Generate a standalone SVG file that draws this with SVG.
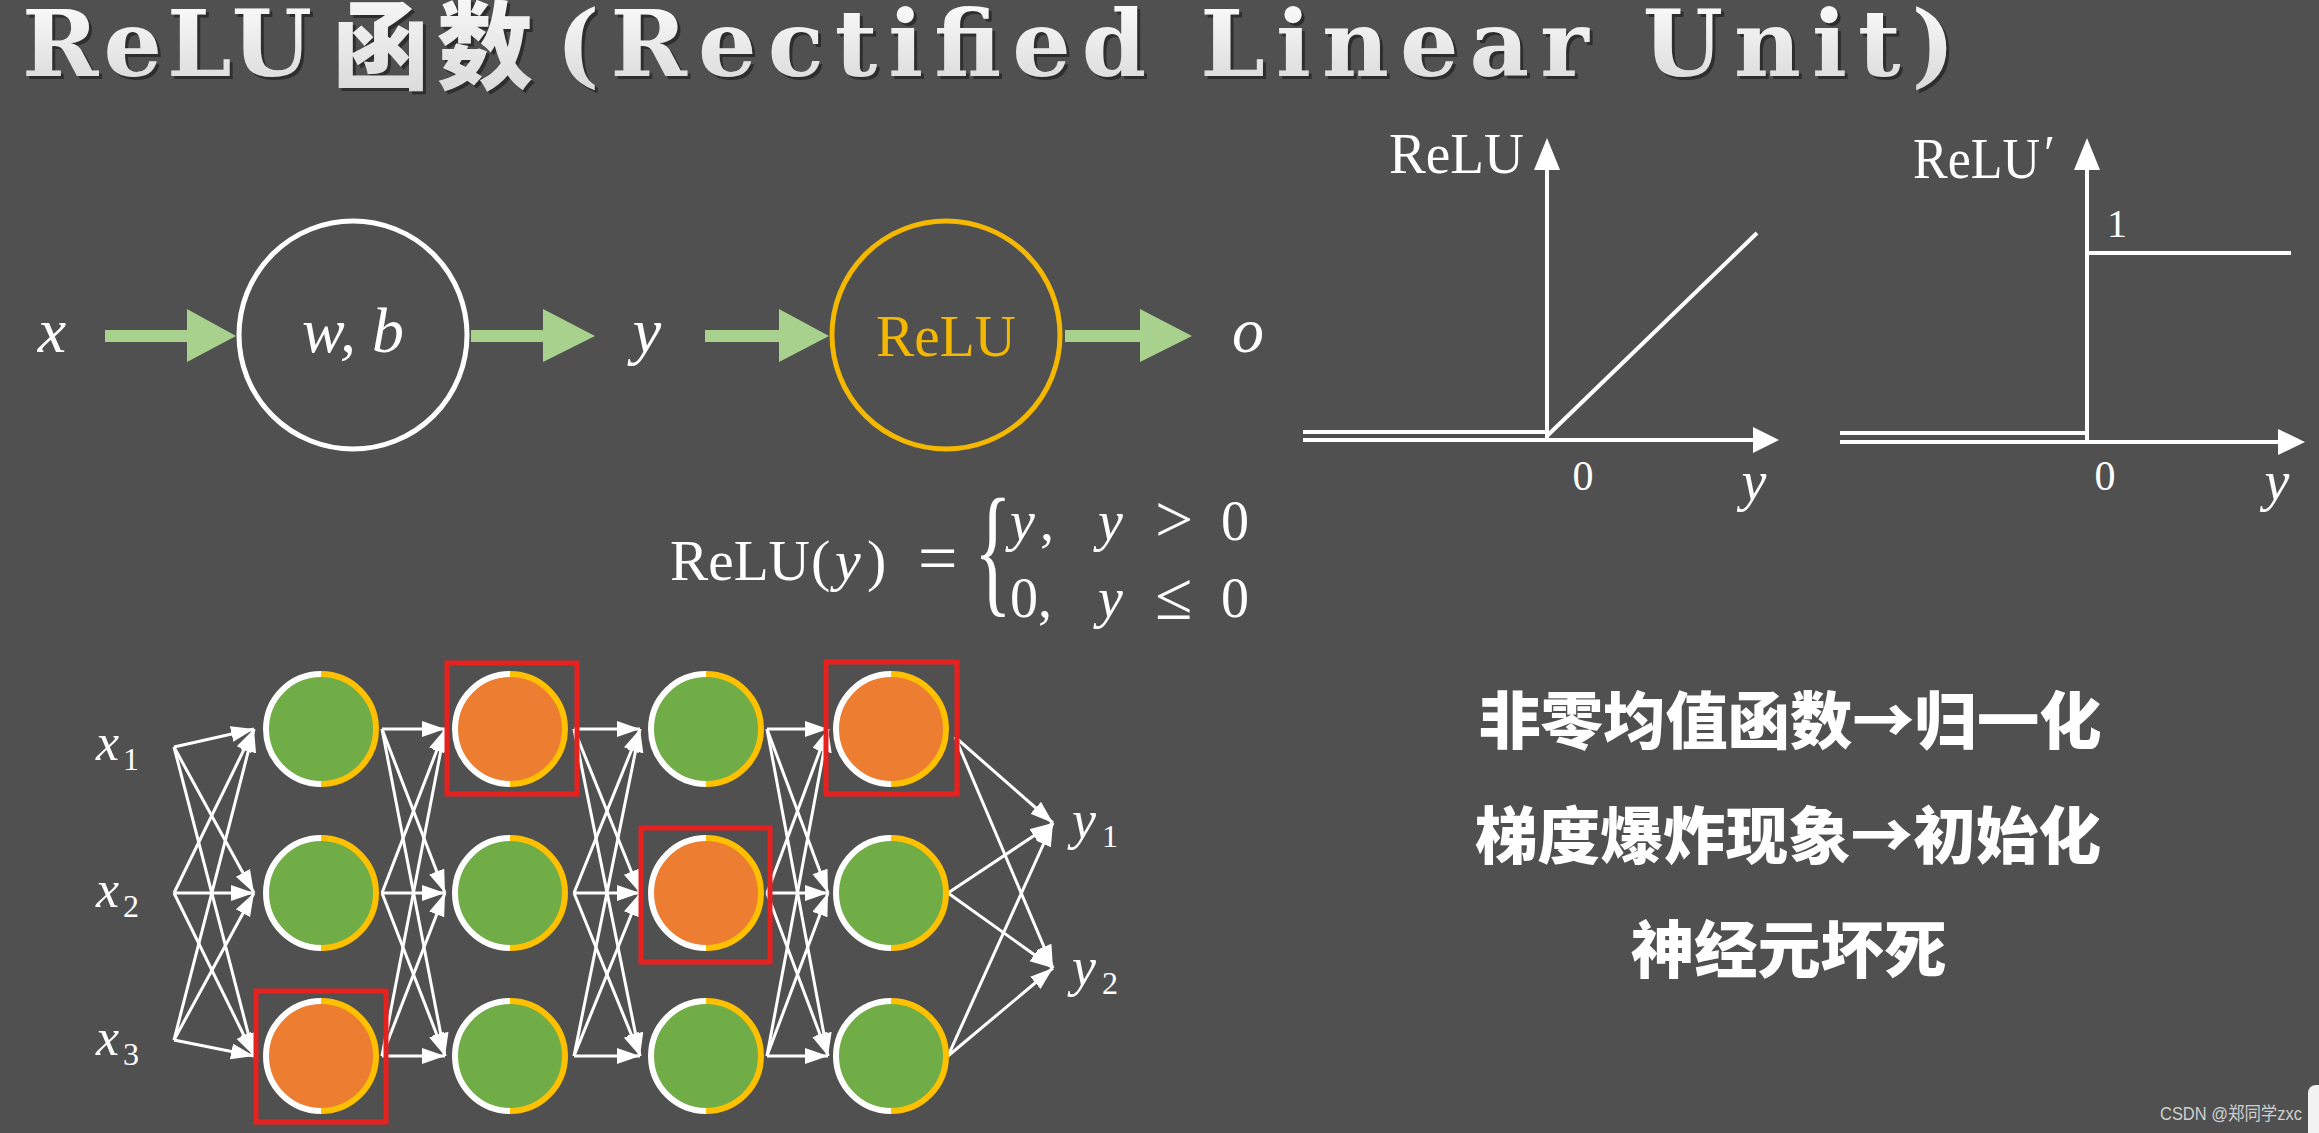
<svg xmlns="http://www.w3.org/2000/svg" xmlns:xlink="http://www.w3.org/1999/xlink" width="2319" height="1133" viewBox="0 0 2319 1133">
<defs>
<style>
.serif{font-family:"Liberation Serif","DejaVu Serif",serif;fill:#ffffff}
.it{font-style:italic}
.cjk{font-family:"Noto Sans CJK SC","Noto Sans CJK TC",sans-serif;font-weight:900;fill:#ffffff}
.axis{stroke:#ffffff;stroke-width:4;fill:none}
.edge{stroke:#ffffff;stroke-width:3;fill:none;marker-end:url(#ah)}
.garrow{fill:#A9D18E}
.g{fill:#70AD47}
.o{fill:#ED7D31}
.box{fill:none;stroke:#E8201E;stroke-width:5}
.title{font-family:"DejaVu Serif","Liberation Serif",serif;font-weight:700;font-size:92px}
.titlecjk{font-family:"Noto Sans CJK SC",sans-serif;font-weight:900;font-size:96px}
</style>
<linearGradient id="tg" x1="0" y1="0" x2="0" y2="1">
<stop offset="0" stop-color="#ffffff"/>
<stop offset="1" stop-color="#d6d6d6"/>
</linearGradient>
<marker id="ah" markerUnits="userSpaceOnUse" markerWidth="24" markerHeight="18" refX="23" refY="8" orient="auto">
<path d="M0,0 L23,8 L0,16 z" fill="#ffffff"/>
</marker>
<g id="ring">
<path d="M0,-55 A55,55 0 0 0 0,55" stroke="#ffffff" stroke-width="6" fill="none"/>
<path d="M0,-55 A55,55 0 0 1 0,55" stroke="#FFC000" stroke-width="6" fill="none"/>
</g>
</defs>
<rect width="2319" height="1133" fill="#505050"/>

<g id="title">
<g fill="#2e2e2e" transform="translate(3,3)">
<text class="title" x="22" y="76" textLength="290" lengthAdjust="spacing">ReLU</text>
<text class="titlecjk" x="333" y="81" textLength="200" lengthAdjust="spacing">函数</text>
<text class="title" x="556" y="76" textLength="1399" lengthAdjust="spacing">(Rectified Linear Unit)</text>
</g>
<g fill="url(#tg)">
<text class="title" x="22" y="76" textLength="290" lengthAdjust="spacing">ReLU</text>
<text class="titlecjk" x="333" y="81" textLength="200" lengthAdjust="spacing">函数</text>
<text class="title" x="556" y="76" textLength="1399" lengthAdjust="spacing">(Rectified Linear Unit)</text>
</g>
</g>

<g id="flow">
<g id="lbl_x"><text class="serif it" x="52" y="352" font-size="64" text-anchor="middle">x</text></g>
<g id="arrow1"><polygon class="garrow" points="105,330 187,330 187,309 236,336 187,362 187,342 105,342"/></g>
<g id="node_wb">
<circle cx="353" cy="335" r="114" fill="none" stroke="#ffffff" stroke-width="5"/>
<text class="serif it" x="353" y="352" font-size="64" text-anchor="middle">w, b</text>
</g>
<g id="arrow2"><polygon class="garrow" points="471,330 543,330 543,309 595,336 543,362 543,342 471,342"/></g>
<g id="lbl_y"><text class="serif it" x="647" y="352" font-size="64" text-anchor="middle">y</text></g>
<g id="arrow3"><polygon class="garrow" points="705,330 779,330 779,309 829,336 779,362 779,342 705,342"/></g>
<g id="node_relu">
<circle cx="946" cy="335" r="114" fill="none" stroke="#F5B800" stroke-width="5"/>
<text x="946" y="356" font-size="60" text-anchor="middle" font-family="Liberation Serif, DejaVu Serif, serif" fill="#F5B800" textLength="140" lengthAdjust="spacingAndGlyphs">ReLU</text>
</g>
<g id="arrow4"><polygon class="garrow" points="1065,330 1140,330 1140,309 1192,336 1140,362 1140,342 1065,342"/></g>
<g id="lbl_o"><text class="serif it" x="1248" y="352" font-size="64" text-anchor="middle">o</text></g>
</g>

<g id="graph_relu">
<line class="axis" x1="1547" y1="440" x2="1547" y2="165"/>
<polygon points="1547,138 1534,170 1560,170" fill="#ffffff"/>
<line class="axis" x1="1303" y1="440" x2="1756" y2="440"/>
<polygon points="1779,440 1753,427 1753,453" fill="#ffffff"/>
<line class="axis" x1="1303" y1="432" x2="1547" y2="432"/>
<line class="axis" x1="1547" y1="436" x2="1757" y2="233"/>
<text class="serif" x="1389" y="173" font-size="58" textLength="135" lengthAdjust="spacingAndGlyphs">ReLU</text>
<text class="serif" x="1583" y="490" font-size="42" text-anchor="middle">0</text>
<text class="serif it" x="1754" y="500" font-size="56" text-anchor="middle">y</text>
</g>

<g id="graph_drelu">
<line class="axis" x1="2087" y1="442" x2="2087" y2="165"/>
<polygon points="2087,138 2074,170 2100,170" fill="#ffffff"/>
<line class="axis" x1="1840" y1="442" x2="2281" y2="442"/>
<polygon points="2305,442 2278,429 2278,455" fill="#ffffff"/>
<line class="axis" x1="1840" y1="433" x2="2087" y2="433"/>
<line class="axis" x1="2087" y1="253" x2="2291" y2="253"/>
<text class="serif" x="1913" y="178" font-size="56" textLength="127" lengthAdjust="spacingAndGlyphs">ReLU</text>
<text class="serif" x="2044" y="170" font-size="50">′</text>
<text class="serif" x="2117" y="237" font-size="40" text-anchor="middle">1</text>
<text class="serif" x="2105" y="490" font-size="42" text-anchor="middle">0</text>
<text class="serif it" x="2277" y="500" font-size="56" text-anchor="middle">y</text>
</g>

<g id="formula">
<text class="serif" x="670" y="580" font-size="58" textLength="140" lengthAdjust="spacingAndGlyphs">ReLU</text>
<text class="serif" x="811" y="580" font-size="58">(</text>
<text class="serif it" x="835" y="580" font-size="58">y</text>
<text class="serif" x="867" y="580" font-size="58">)</text>
<text class="serif" x="918" y="582" font-size="70">=</text>
<text class="serif" transform="translate(974,598) scale(0.55,1)" font-size="143">{</text>
<text class="serif it" x="1010" y="540" font-size="56">y</text>
<text class="serif" x="1040" y="540" font-size="56">,</text>
<text class="serif it" x="1098" y="540" font-size="56">y</text>
<text class="serif" x="1155" y="542" font-size="68">&gt;</text>
<text class="serif" x="1221" y="540" font-size="56">0</text>
<text class="serif" x="1010" y="617" font-size="56">0,</text>
<text class="serif it" x="1098" y="617" font-size="56">y</text>
<text class="serif" x="1155" y="619" font-size="68">≤</text>
<text class="serif" x="1221" y="617" font-size="56">0</text>
</g>

<g id="connectors">
<line class="edge" x1="174" y1="747" x2="254" y2="729"/>
<line class="edge" x1="174" y1="747" x2="254" y2="893"/>
<line class="edge" x1="174" y1="747" x2="254" y2="1056"/>
<line class="edge" x1="174" y1="893" x2="254" y2="729"/>
<line class="edge" x1="174" y1="893" x2="254" y2="893"/>
<line class="edge" x1="174" y1="893" x2="254" y2="1056"/>
<line class="edge" x1="174" y1="1040" x2="254" y2="729"/>
<line class="edge" x1="174" y1="1040" x2="254" y2="893"/>
<line class="edge" x1="174" y1="1040" x2="254" y2="1056"/>

<line class="edge" x1="382" y1="729" x2="445" y2="729"/>
<line class="edge" x1="382" y1="729" x2="445" y2="893"/>
<line class="edge" x1="382" y1="729" x2="445" y2="1056"/>
<line class="edge" x1="382" y1="893" x2="445" y2="729"/>
<line class="edge" x1="382" y1="893" x2="445" y2="893"/>
<line class="edge" x1="382" y1="893" x2="445" y2="1056"/>
<line class="edge" x1="382" y1="1056" x2="445" y2="729"/>
<line class="edge" x1="382" y1="1056" x2="445" y2="893"/>
<line class="edge" x1="382" y1="1056" x2="445" y2="1056"/>

<line class="edge" x1="574" y1="729" x2="640" y2="729"/>
<line class="edge" x1="574" y1="729" x2="640" y2="893"/>
<line class="edge" x1="574" y1="729" x2="640" y2="1056"/>
<line class="edge" x1="574" y1="893" x2="640" y2="729"/>
<line class="edge" x1="574" y1="893" x2="640" y2="893"/>
<line class="edge" x1="574" y1="893" x2="640" y2="1056"/>
<line class="edge" x1="574" y1="1056" x2="640" y2="729"/>
<line class="edge" x1="574" y1="1056" x2="640" y2="893"/>
<line class="edge" x1="574" y1="1056" x2="640" y2="1056"/>

<line class="edge" x1="767" y1="729" x2="828" y2="729"/>
<line class="edge" x1="767" y1="729" x2="828" y2="893"/>
<line class="edge" x1="767" y1="729" x2="828" y2="1056"/>
<line class="edge" x1="767" y1="893" x2="828" y2="729"/>
<line class="edge" x1="767" y1="893" x2="828" y2="893"/>
<line class="edge" x1="767" y1="893" x2="828" y2="1056"/>
<line class="edge" x1="767" y1="1056" x2="828" y2="729"/>
<line class="edge" x1="767" y1="1056" x2="828" y2="893"/>
<line class="edge" x1="767" y1="1056" x2="828" y2="1056"/>

<line class="edge" x1="955" y1="737" x2="1053" y2="823"/>
<line class="edge" x1="955" y1="737" x2="1053" y2="968"/>
<line class="edge" x1="948" y1="893" x2="1053" y2="823"/>
<line class="edge" x1="948" y1="893" x2="1053" y2="968"/>
<line class="edge" x1="948" y1="1056" x2="1053" y2="823"/>
<line class="edge" x1="948" y1="1056" x2="1053" y2="968"/>
</g>

<g id="inputs">
<g id="in_x1"><text class="serif it" x="96" y="760" font-size="52">x</text><text class="serif" x="123" y="770" font-size="32">1</text></g>
<g id="in_x2"><text class="serif it" x="96" y="907" font-size="52">x</text><text class="serif" x="123" y="917" font-size="32">2</text></g>
<g id="in_x3"><text class="serif it" x="96" y="1055" font-size="52">x</text><text class="serif" x="123" y="1065" font-size="32">3</text></g>
</g>

<g id="outputs">
<g id="out_y1"><text class="serif it" x="1072" y="838" font-size="54">y</text><text class="serif" x="1102" y="847" font-size="32">1</text></g>
<g id="out_y2"><text class="serif it" x="1072" y="985" font-size="54">y</text><text class="serif" x="1102" y="994" font-size="32">2</text></g>
</g>

<g id="n_1_1" transform="translate(321,729)"><circle class="g" r="55"/><use xlink:href="#ring"/></g>
<g id="n_1_2" transform="translate(321,893)"><circle class="g" r="55"/><use xlink:href="#ring"/></g>
<g id="n_1_3" transform="translate(321,1056)"><circle class="o" r="55"/><use xlink:href="#ring"/><rect class="box" x="-65" y="-65" width="130" height="131"/></g>
<g id="n_2_1" transform="translate(510,729)"><circle class="o" r="55"/><use xlink:href="#ring"/><rect class="box" x="-63" y="-66" width="130" height="131"/></g>
<g id="n_2_2" transform="translate(510,893)"><circle class="g" r="55"/><use xlink:href="#ring"/></g>
<g id="n_2_3" transform="translate(510,1056)"><circle class="g" r="55"/><use xlink:href="#ring"/></g>
<g id="n_3_1" transform="translate(706,729)"><circle class="g" r="55"/><use xlink:href="#ring"/></g>
<g id="n_3_2" transform="translate(706,893)"><circle class="o" r="55"/><use xlink:href="#ring"/><rect class="box" x="-65" y="-65" width="129" height="134"/></g>
<g id="n_3_3" transform="translate(706,1056)"><circle class="g" r="55"/><use xlink:href="#ring"/></g>
<g id="n_4_1" transform="translate(891,729)"><circle class="o" r="55"/><use xlink:href="#ring"/><rect class="box" x="-65" y="-67" width="131" height="132"/></g>
<g id="n_4_2" transform="translate(891,893)"><circle class="g" r="55"/><use xlink:href="#ring"/></g>
<g id="n_4_3" transform="translate(891,1056)"><circle class="g" r="55"/><use xlink:href="#ring"/></g>

<g id="notes">
<text class="cjk" x="1790" y="744" font-size="62" text-anchor="middle" textLength="623" lengthAdjust="spacingAndGlyphs">非零均值函数→归一化</text>
<text class="cjk" x="1788" y="859" font-size="62" text-anchor="middle" textLength="626" lengthAdjust="spacingAndGlyphs">梯度爆炸现象→初始化</text>
<text class="cjk" x="1789" y="973" font-size="62" text-anchor="middle" textLength="316" lengthAdjust="spacingAndGlyphs">神经元坏死</text>
</g>

<g id="watermark">
<text x="2160" y="1120" font-size="18" font-family="Liberation Sans, Noto Sans CJK SC, sans-serif" fill="#cfcfcf" textLength="142" lengthAdjust="spacingAndGlyphs">CSDN @郑同学zxc</text>
<rect x="2308" y="1085" width="20" height="60" rx="8" fill="#f2f2f2"/>
</g>
</svg>
